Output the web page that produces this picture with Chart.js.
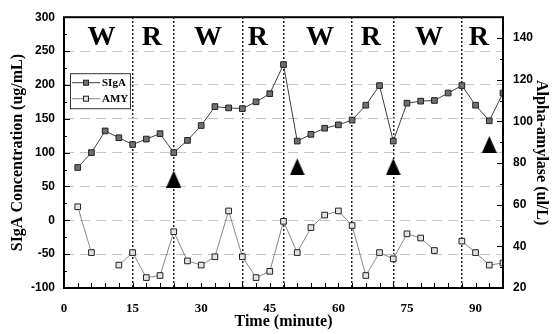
<!DOCTYPE html>
<html>
<head>
<meta charset="utf-8">
<script src="https://cdn.jsdelivr.net/npm/chart.js@4.4.0/dist/chart.umd.min.js"></script>
<style>
  html, body { margin: 0; padding: 0; background: #fff; }
</style>
</head>
<body>
<canvas id="myChart" width="555" height="334"></canvas>
<script>
// sampling times (minutes)
var times = [3, 6, 9, 12, 15, 18, 21, 24, 27, 30, 33, 36, 39, 42, 45, 48,
             51, 54, 57, 60, 63, 66, 69, 72, 75, 78, 81, 84, 87, 90, 93, 96];

// SIgA concentration (ug/mL), left axis
var sigaValues = [78, 100, 132, 122, 112, 120, 128, 100, 118, 140, 168, 166, 165, 175, 187, 230,
                  117, 127, 136, 141, 148, 170, 199, 117, 173, 176, 177, 188, 199, 170, 147, 188];

// Alpha-amylase (ul/L), right axis; null = missing sample
var amyValues = [59, 37, null, 31, 37, 25, 26, 47, 33, 31, 35, 57, 35, 25, 28, 52,
                 37, 49, 55, 57, 50, 26, 37, 34, 46, 44, 38, null, 42.5, 37, 31, 32];

// phase boundaries and labels (W = work, R = rest)
var phaseBounds = [15, 24, 39, 48, 63, 72, 87];
var phaseLabels = ['W', 'R', 'W', 'R', 'W', 'R', 'W', 'R'];
var phaseCenters = [8.2, 19.2, 31.5, 42.4, 56, 67.1, 79.8, 90.7];

// event markers (black triangles)
var markerTimes = [24, 51, 72, 93];
var markerValues = [61, 79, 79, 112];

// tick values
var sigaTicks = [-100, -50, 0, 50, 100, 150, 200, 250, 300];
var amyTicks = [20, 40, 60, 80, 100, 120, 140];
var xLabels = [0, 15, 30, 45, 60, 75, 90];

var serif = 'Liberation Serif';
var sans = 'Liberation Sans';

// triangle picture used as point style
var tri = document.createElement('canvas');
tri.width = 15;
tri.height = 17;
var tctx = tri.getContext('2d');
tctx.fillStyle = '#000';
tctx.beginPath();
tctx.moveTo(7.5, 0);
tctx.lineTo(15, 17);
tctx.lineTo(0, 17);
tctx.closePath();
tctx.fill();

function pts(ys) {
    return times.map(function (t, i) { return { x: t, y: ys[i] }; });
}

// extra drawing: inward ticks, phase letters, legend box, frame
var decorPlugin = {
    id: 'decor',
    afterDatasetsDraw: function (chart) {
        var c = chart.ctx;
        var a = chart.chartArea;
        var xs = chart.scales.x, ys = chart.scales.y, y2 = chart.scales.y2;
        c.save();
        c.strokeStyle = '#000';
        c.lineWidth = 1;

        // x ticks every 3 min, pointing up
        for (var t = 0; t <= 96; t += 3) {
            var px = Math.round(xs.getPixelForValue(t)) + 0.5;
            c.beginPath(); c.moveTo(px, a.bottom); c.lineTo(px, a.bottom - 5); c.stroke();
        }
        // left ticks
        for (var v = -100; v <= 300; v += 25) {
            var py = Math.round(ys.getPixelForValue(v)) + 0.5;
            var len = v % 50 === 0 ? 6 : 3;
            c.beginPath(); c.moveTo(a.left, py); c.lineTo(a.left + len, py); c.stroke();
        }
        // right ticks
        for (var w = 20; w <= 150; w += 10) {
            var py2 = Math.round(y2.getPixelForValue(w)) + 0.5;
            var len2 = w % 20 === 0 ? 6 : 3;
            c.beginPath(); c.moveTo(a.right, py2); c.lineTo(a.right - len2, py2); c.stroke();
        }

        // phase letters
        c.fillStyle = '#000';
        c.font = 'bold 28px "' + serif + '"';
        c.textAlign = 'center';
        c.textBaseline = 'middle';
        phaseLabels.forEach(function (lab, i) {
            c.fillText(lab, xs.getPixelForValue(phaseCenters[i]), ys.getPixelForValue(270));
        });

        // legend box
        var lx = a.left + 6, ly = a.top + 56;
        c.fillStyle = '#fff';
        c.fillRect(lx, ly, 60, 35);
        c.strokeStyle = '#333';
        c.strokeRect(lx + 0.5, ly + 0.5, 60, 35);
        var rows = [
            { text: 'SIgA', line: '#404040', fill: '#707070', y: ly + 9.5 },
            { text: 'AMY', line: '#888', fill: '#e4e4e4', y: ly + 25.5 }
        ];
        rows.forEach(function (r) {
            c.strokeStyle = r.line;
            c.beginPath(); c.moveTo(lx + 2, r.y); c.lineTo(lx + 30, r.y); c.stroke();
            c.fillStyle = r.fill;
            c.fillRect(lx + 13.5, r.y - 2.5, 5, 5);
            c.strokeStyle = '#222';
            c.strokeRect(lx + 13.5, r.y - 2.5, 5, 5);
            c.fillStyle = '#000';
            c.font = 'bold 11px "' + serif + '"';
            c.textAlign = 'left';
            c.fillText(r.text, lx + 32, r.y + 0.5);
        });

        // frame
        c.strokeStyle = '#000';
        c.lineWidth = 2;
        c.strokeRect(a.left, a.top, a.right - a.left, a.bottom - a.top);
        c.restore();
    }
};

var ctx = document.getElementById('myChart').getContext('2d');

var myChart = new Chart(ctx, {
    type: 'line',
    data: {
        datasets: [
            {
                label: 'markers',
                data: markerTimes.map(function (t, i) { return { x: t, y: markerValues[i] }; }),
                showLine: false,
                pointStyle: tri,
                yAxisID: 'y'
            },
            {
                label: 'SIgA',
                data: pts(sigaValues),
                borderColor: '#404040',
                borderWidth: 1,
                pointStyle: 'rect',
                pointRadius: 4,
                pointBackgroundColor: '#707070',
                pointBorderColor: '#222',
                pointBorderWidth: 1,
                tension: 0,
                yAxisID: 'y'
            },
            {
                label: 'AMY',
                data: pts(amyValues),
                borderColor: '#888',
                borderWidth: 1,
                pointStyle: 'rect',
                pointRadius: 4,
                pointBackgroundColor: '#e4e4e4',
                pointBorderColor: '#222',
                pointBorderWidth: 1,
                tension: 0,
                spanGaps: false,
                yAxisID: 'y2'
            }
        ]
    },
    options: {
        responsive: false,
        animation: false,
        devicePixelRatio: 1,
        layout: { padding: { top: 16, left: 0, right: 0, bottom: 0 } },
        plugins: {
            legend: { display: false },
            tooltip: { enabled: false }
        },
        scales: {
            x: {
                type: 'linear',
                position: 'bottom',
                min: 0,
                max: 96,
                afterBuildTicks: function (s) { s.ticks = xLabels.map(function (v) { return { value: v }; }); },
                afterFit: function (s) { s.height = 46; },
                grid: { display: false, drawTicks: false },
                border: { display: false },
                ticks: {
                    autoSkip: false,
                    maxRotation: 0,
                    padding: 13,
                    color: '#000',
                    font: { family: serif, weight: 'bold', size: 13 }
                },
                title: {
                    display: true,
                    text: 'Time (minute)',
                    color: '#000',
                    font: { family: serif, weight: 'bold', size: 16 },
                    padding: { top: 0, bottom: 3 }
                }
            },
            phase: {
                type: 'linear',
                position: 'top',
                min: 0,
                max: 96,
                afterBuildTicks: function (s) { s.ticks = phaseBounds.map(function (v) { return { value: v }; }); },
                afterFit: function (s) { s.height = 0; },
                grid: { color: '#222', lineWidth: 1.5, drawTicks: false },
                border: { display: false, dash: [2, 2] },
                ticks: { display: false }
            },
            y: {
                position: 'left',
                min: -100,
                max: 300,
                afterBuildTicks: function (s) { s.ticks = sigaTicks.map(function (v) { return { value: v }; }); },
                afterFit: function (s) { s.width = 64; },
                grid: { color: '#c4c4c4', lineWidth: 1, drawTicks: false },
                border: { display: false, dash: [10, 6] },
                ticks: {
                    padding: 9,
                    color: '#000',
                    font: { family: sans, weight: 'bold', size: 12 }
                },
                title: {
                    display: true,
                    text: 'SIgA Concentration (ug/mL)',
                    color: '#000',
                    font: { family: serif, weight: 'bold', size: 16 },
                    padding: { top: 8, bottom: 0 }
                }
            },
            y2: {
                position: 'right',
                min: 20,
                max: 150,
                afterBuildTicks: function (s) { s.ticks = amyTicks.map(function (v) { return { value: v }; }); },
                afterFit: function (s) { s.width = 52; },
                grid: { drawOnChartArea: false, drawTicks: false },
                border: { display: false },
                ticks: {
                    padding: 10,
                    color: '#000',
                    font: { family: sans, weight: 'bold', size: 12 }
                },
                title: {
                    display: true,
                    text: 'Alpha-amylase (ul/L)',
                    color: '#000',
                    font: { family: serif, weight: 'bold', size: 16 },
                    padding: { top: 4, bottom: 0 }
                }
            }
        }
    },
    plugins: [decorPlugin]
});
</script>
</body>
</html>
